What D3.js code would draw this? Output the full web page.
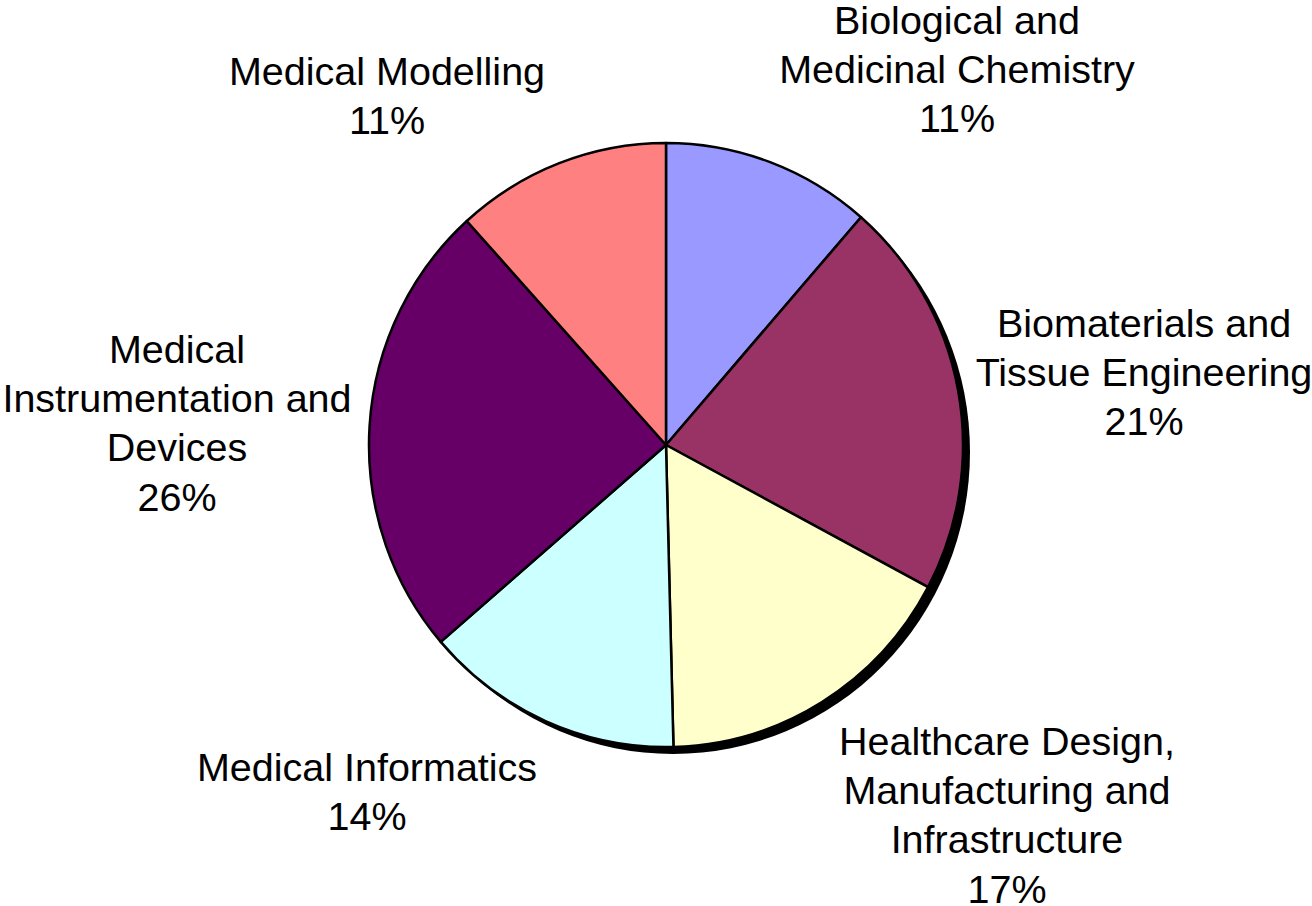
<!DOCTYPE html>
<html>
<head>
    <meta charset="utf-8">
    <script src="https://cdn.jsdelivr.net/npm/d3@7/dist/d3.min.js"></script>
    <style>
        body { margin: 0; background: #fff; }
        text { font-family: Arial, "Liberation Sans", sans-serif; font-size: 39.5px; fill: #000; }
    </style>
</head>
<body>
    <div id="chart"></div>
    <script>
        const categories = [
            "Biological and Medicinal Chemistry",
            "Biomaterials and Tissue Engineering",
            "Healthcare Design, Manufacturing and Infrastructure",
            "Medical Informatics",
            "Medical Instrumentation and Devices",
            "Medical Modelling"
        ];
        const values = [11.4, 21.4, 16.8, 14.1, 24.6, 11.7];
        const percentLabels = ["11%", "21%", "17%", "14%", "26%", "11%"];
        const colors = ["#9999FF", "#993366", "#FFFFCC", "#CCFFFF", "#660066", "#FF8080"];

        // label layout: wrapped lines, centre x and first baseline
        const labelLines = [
            ["Biological and", "Medicinal Chemistry"],
            ["Biomaterials and", "Tissue Engineering"],
            ["Healthcare Design,", "Manufacturing and", "Infrastructure"],
            ["Medical Informatics"],
            ["Medical", "Instrumentation and", "Devices"],
            ["Medical Modelling"]
        ];
        const labelPos = [[957, 34], [1144, 337], [1007, 755], [367, 781], [177, 363], [387, 85]];
        const lineStep = 49.2;

        const width = 1312, height = 906;
        const cx = 666, cy = 445, r = 300;
        const sx = 297 / r, sy = 302 / r;   // the pie is very slightly oval

        const svg = d3.select("#chart").append("svg")
            .attr("width", width)
            .attr("height", height);

        const pie = d3.pie().sort(null).value(d => d);
        const arc = d3.arc().innerRadius(0).outerRadius(r);
        const arcs = pie(values);

        // drop shadow
        svg.append("g")
            .attr("transform", `translate(${cx + 7},${cy + 7}) scale(${sx},${sy})`)
            .append("path")
            .attr("d", arc({ startAngle: 0, endAngle: 2 * Math.PI }))
            .attr("fill", "#000");

        const g = svg.append("g")
            .attr("transform", `translate(${cx},${cy}) scale(${sx},${sy})`);

        g.selectAll("path")
            .data(arcs)
            .join("path")
            .attr("d", arc)
            .attr("fill", (d, i) => colors[i])
            .attr("stroke", "#000")
            .attr("stroke-width", 2.5)
            .attr("stroke-linejoin", "round")
            .attr("vector-effect", "non-scaling-stroke");

        // labels
        const labels = svg.append("g");
        categories.forEach(function (c, i) {
            const lines = labelLines[i].concat([percentLabels[i]]);
            const t = labels.append("text")
                .attr("text-anchor", "middle")
                .attr("x", labelPos[i][0])
                .attr("y", labelPos[i][1]);
            lines.forEach(function (l, j) {
                t.append("tspan")
                    .attr("x", labelPos[i][0])
                    .attr("y", labelPos[i][1] + j * lineStep)
                    .text(l);
            });
        });
    </script>
</body>
</html>
